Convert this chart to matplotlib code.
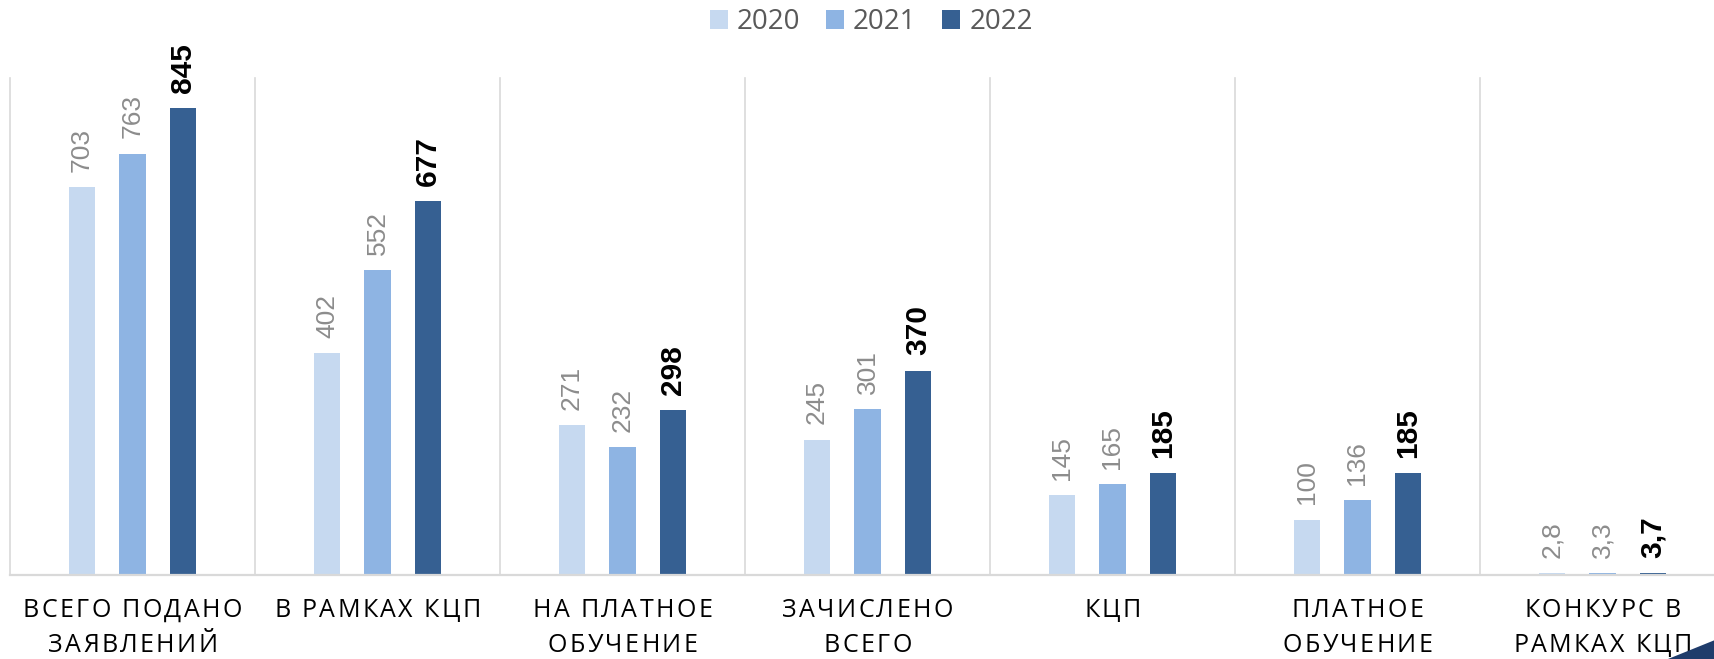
import matplotlib
matplotlib.use("Agg")
import matplotlib.pyplot as plt
import numpy as np
from matplotlib.patches import Patch, Polygon
from matplotlib import font_manager
from matplotlib.ft2font import FT2Font

categories = ["ВСЕГО ПОДАНО\nЗАЯВЛЕНИЙ", "В РАМКАХ КЦП", "НА ПЛАТНОЕ\nОБУЧЕНИЕ",
              "ЗАЧИСЛЕНО\nВСЕГО", "КЦП", "ПЛАТНОЕ\nОБУЧЕНИЕ", "КОНКУРС В\nРАМКАХ КЦП"]
series_names = ["2020", "2021", "2022"]
v2020 = [703, 402, 271, 245, 145, 100, 2.8]
v2021 = [763, 552, 232, 301, 165, 136, 3.3]
v2022 = [845, 677, 298, 370, 185, 185, 3.7]
series_values = [v2020, v2021, v2022]

colors = ["#C6D9F0", "#8EB4E3", "#366092"]
label_colors = ["#8C8C8C", "#8C8C8C", "#000000"]
label_weights = ["normal", "normal", "bold"]
label_sizes = [19, 19, 21.5]

DPI = 100
W, H = 1715, 659
fig = plt.figure(figsize=(W / DPI, H / DPI), dpi=DPI)
fig.patch.set_facecolor("white")

left_px, top_px, bottom_px = 10, 78, 575
ax = fig.add_axes([left_px / W, (H - bottom_px) / H, 1715 / W, (bottom_px - top_px) / H])
ax.set_xlim(-0.5, len(categories) - 0.5)
ax.set_ylim(0, 900)
for s in ax.spines.values():
    s.set_visible(False)
ax.set_xticks([])
ax.set_yticks([])

grid_c = "#D9D9D9"
for b in np.arange(-0.5, len(categories) + 0.5, 1.0):
    ax.axvline(b, color=grid_c, lw=1.2, zorder=0, clip_on=False)
ax.axhline(0, color=grid_c, lw=1.6, zorder=3, clip_on=False)

x = np.arange(len(categories))
bw = 0.108
step = 0.206


def fmt(v):
    if float(v).is_integer():
        return str(int(v))
    return ("%.1f" % v).replace(".", ",")


for i, vals in enumerate(series_values):
    xs = x + (i - 1) * step
    ax.bar(xs, vals, width=bw, color=colors[i], zorder=2, label=series_names[i])
    for xi, v in zip(xs, vals):
        ax.annotate(fmt(v), xy=(xi, v), xytext=(0, 11), textcoords="offset points",
                    rotation=90, ha="center", va="bottom",
                    fontsize=label_sizes[i], fontweight=label_weights[i],
                    color=label_colors[i], family="Liberation Sans",
                    annotation_clip=False)

# Category labels with letter spacing
cat_font = "Open Sans"
cat_size = 18
fp = font_manager.FontProperties(family=cat_font)
fpath = font_manager.findfont(fp)
ft = FT2Font(fpath)
ft.set_size(cat_size, DPI)


def advance(ch):
    g = ft.load_char(ord(ch))
    return g.linearHoriAdvance / 65536.0


tracking = 2.4  # px
baselines = [42, 77]  # px below axis
px2pt = 72.0 / DPI
for ci, cat in enumerate(categories):
    for li, line in enumerate(cat.split("\n")):
        advs = [advance(c) for c in line]
        total = sum(advs) + tracking * (len(line) - 1)
        pen = -total / 2.0
        for c, a in zip(line, advs):
            if c != " ":
                ax.annotate(c, xy=(ci, 0), xycoords=("data", "axes fraction"),
                            xytext=((pen + a / 2.0) * px2pt, -baselines[li] * px2pt),
                            textcoords="offset points", ha="center", va="baseline",
                            fontsize=cat_size, family=cat_font, color="#000000",
                            annotation_clip=False)
            pen += a + tracking

handles = [Patch(facecolor=c, edgecolor="none") for c in colors]
leg = fig.legend(handles, series_names, loc="center", bbox_to_anchor=(0.508, 1 - 22 / H),
                 ncol=3, frameon=False, handlelength=0.65, handleheight=0.65,
                 handletextpad=0.32, columnspacing=0.93, borderpad=0, borderaxespad=0,
                 prop={"family": "Open Sans", "size": 20})
for t in leg.get_texts():
    t.set_color("#595959")

# decorative wedge at bottom-right
fig.patches.append(Polygon([(1668 / W, 0), (1715 / W, 19 / H), (1715 / W, 0)],
                           closed=True, transform=fig.transFigure, facecolor="#1F3C6B",
                           edgecolor="none"))

fig.savefig("out.png", dpi=DPI)
